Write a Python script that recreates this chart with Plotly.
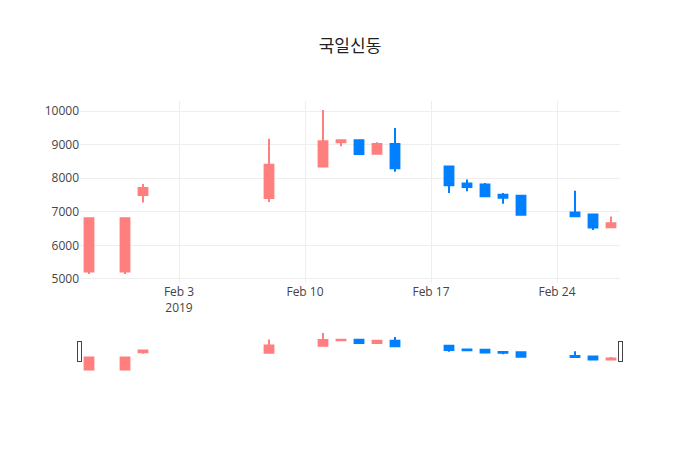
import plotly.graph_objects as go

dates = ['2019-01-29', '2019-01-31', '2019-02-01', '2019-02-08', '2019-02-11',
         '2019-02-12', '2019-02-13', '2019-02-14', '2019-02-15', '2019-02-18',
         '2019-02-19', '2019-02-20', '2019-02-21', '2019-02-22', '2019-02-25',
         '2019-02-26', '2019-02-27']
open_ = [5220, 5220, 7500, 7410, 8350, 9070, 9130, 8730, 9020, 8350,
         7840, 7810, 7510, 7480, 6980, 6920, 6540]
high = [6810, 6810, 7830, 9180, 10030, 9130, 9130, 9070, 9500, 8350,
        7960, 7860, 7560, 7480, 7630, 6920, 6860]
low = [5150, 5150, 7280, 7290, 8350, 8950, 8700, 8730, 8190, 7560,
       7610, 7450, 7240, 6890, 6870, 6460, 6540]
close = [6810, 6810, 7710, 8400, 9100, 9130, 8720, 9020, 8300, 7790,
         7740, 7460, 7420, 6910, 6870, 6530, 6660]

up_color = '#FF7F7F'
down_color = '#007FFF'

trace = go.Candlestick(
    x=dates, open=open_, high=high, low=low, close=close,
    increasing=dict(line=dict(color=up_color), fillcolor=up_color),
    decreasing=dict(line=dict(color=down_color), fillcolor=down_color),
    showlegend=False,
)

layout = go.Layout(
    title=dict(text='국일신동', x=0.4886, xanchor='center', y=0.929,
               font=dict(color='#222')),
    template='none',
    width=700, height=450,
    margin=dict(l=72, r=88, t=93, b=87),
    font=dict(family='Open Sans, Noto Sans CJK KR', color='#444'),
    xaxis=dict(gridcolor='#eee'),
    yaxis=dict(gridcolor='#eee', tickformat='d', dtick=1000, zeroline=False),
)

fig = go.Figure(data=[trace], layout=layout)
fig.write_html("out.html")
